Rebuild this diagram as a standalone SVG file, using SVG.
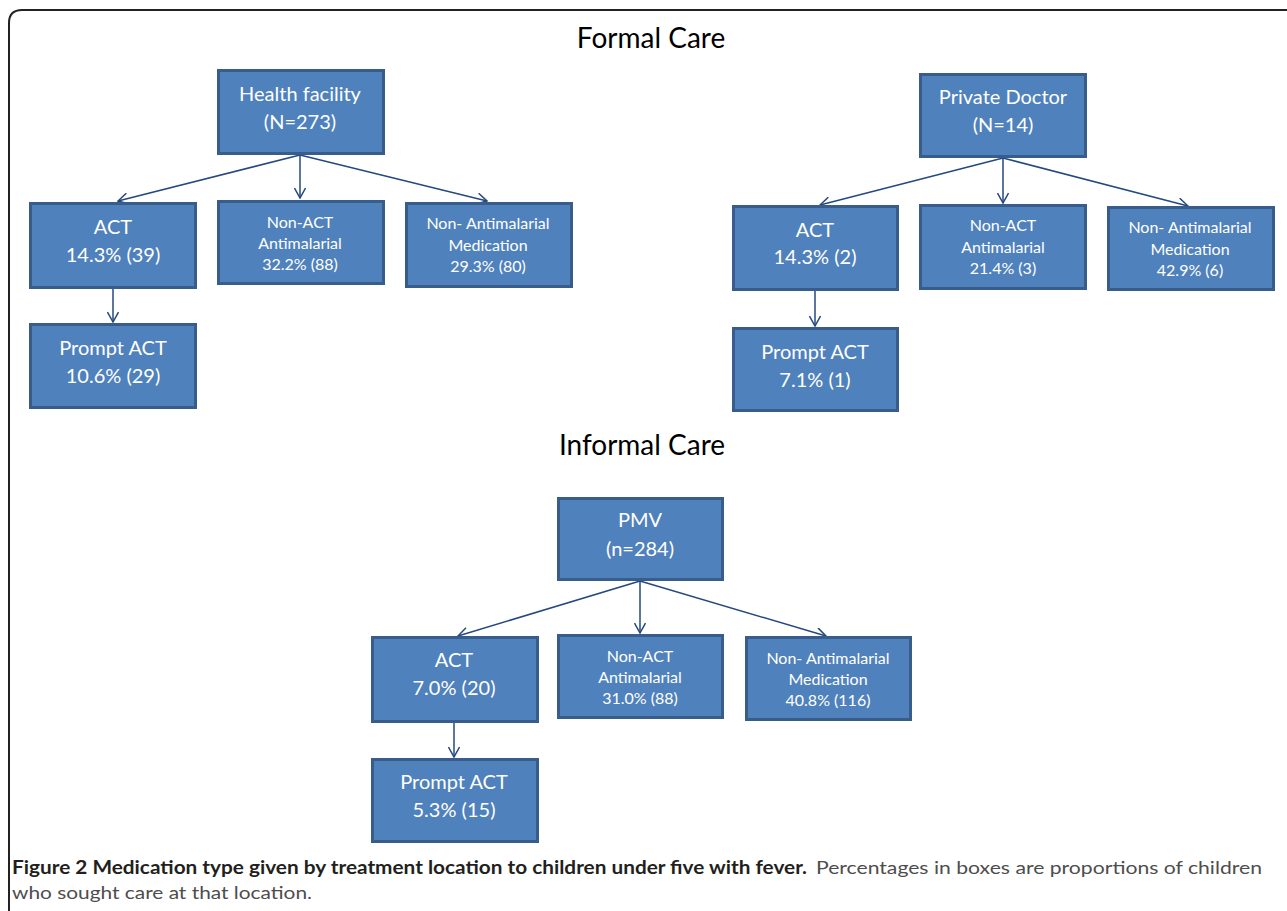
<svg xmlns="http://www.w3.org/2000/svg" width="1287" height="911" viewBox="0 0 1287 911">
<defs>
<style>
.box{fill:#4f81bd;stroke:#385d8a;stroke-width:3}
.t{font-family:Lato,"Open Sans",sans-serif;fill:#fff;text-anchor:middle}
.big{font-size:20px}
.sm{font-size:16px}
.title{font-family:Lato,"Open Sans",sans-serif;font-size:28px;fill:#000;text-anchor:middle}
.edge{stroke:#24497f;stroke-width:1.5;fill:none;marker-end:url(#arr)}
.cap{font-family:Lato,"Open Sans",sans-serif;font-size:18px}
</style>
<marker id="arr" viewBox="0 0 12 12" refX="11" refY="6" markerWidth="12" markerHeight="12" markerUnits="userSpaceOnUse" orient="auto">
<polyline points="1,0.5 11,6 1,11.5" fill="none" stroke="#24497f" stroke-width="1.5"/>
</marker>
</defs>
<rect width="1287" height="911" fill="#fff"/>
<path d="M9 911 V23 Q9 10 22 10 H1287" fill="none" stroke="#222" stroke-width="2"/>
<text class="title" x="651" y="48">Formal Care</text>
<text class="title" x="642" y="455">Informal Care</text>

<g id="connectors">
<line class="edge" x1="300" y1="155" x2="118" y2="201"/>
<line class="edge" x1="300" y1="155" x2="300" y2="198"/>
<line class="edge" x1="300" y1="155" x2="487" y2="201"/>
<line class="edge" x1="113" y1="289" x2="113" y2="322"/>
<line class="edge" x1="1003" y1="158" x2="820" y2="205"/>
<line class="edge" x1="1003" y1="158" x2="1003" y2="203"/>
<line class="edge" x1="1003" y1="158" x2="1188" y2="206"/>
<line class="edge" x1="815" y1="291" x2="815" y2="326"/>
<line class="edge" x1="640" y1="581" x2="458" y2="636"/>
<line class="edge" x1="640" y1="581" x2="640" y2="633"/>
<line class="edge" x1="640" y1="581" x2="826" y2="636"/>
<line class="edge" x1="454" y1="723" x2="454" y2="757"/>
</g>

<g id="hf"><rect class="box" x="218.5" y="70.5" width="165" height="83"/>
<text class="t big" x="300" y="101">Health facility</text><text class="t big" x="300" y="129">(N=273)</text></g>
<g id="hf-act"><rect class="box" x="30.5" y="203.5" width="165" height="84"/>
<text class="t big" x="113" y="234">ACT</text><text class="t big" x="113" y="262">14.3% (39)</text></g>
<g id="hf-nonact"><rect class="box" x="218.5" y="201.5" width="165" height="82"/>
<text class="t sm" x="300" y="228">Non-ACT</text><text class="t sm" x="300" y="249">Antimalarial</text><text class="t sm" x="300" y="270">32.2% (88)</text></g>
<g id="hf-nonanti"><rect class="box" x="406.5" y="203.5" width="165" height="83"/>
<text class="t sm" x="488" y="229">Non- Antimalarial</text><text class="t sm" x="488" y="251">Medication</text><text class="t sm" x="488" y="272">29.3% (80)</text></g>
<g id="hf-prompt"><rect class="box" x="30.5" y="324.5" width="165" height="83"/>
<text class="t big" x="113" y="355">Prompt ACT</text><text class="t big" x="113" y="383">10.6% (29)</text></g>

<g id="pd"><rect class="box" x="920.5" y="74.5" width="165" height="82"/>
<text class="t big" x="1003" y="104">Private Doctor</text><text class="t big" x="1003" y="132">(N=14)</text></g>
<g id="pd-act"><rect class="box" x="733.5" y="206.5" width="164" height="83"/>
<text class="t big" x="815" y="237">ACT</text><text class="t big" x="815" y="264">14.3% (2)</text></g>
<g id="pd-nonact"><rect class="box" x="920.5" y="205.5" width="165" height="83"/>
<text class="t sm" x="1003" y="231">Non-ACT</text><text class="t sm" x="1003" y="253">Antimalarial</text><text class="t sm" x="1003" y="274">21.4% (3)</text></g>
<g id="pd-nonanti"><rect class="box" x="1108.5" y="207.5" width="165" height="82"/>
<text class="t sm" x="1190" y="233">Non- Antimalarial</text><text class="t sm" x="1190" y="255">Medication</text><text class="t sm" x="1190" y="276">42.9% (6)</text></g>
<g id="pd-prompt"><rect class="box" x="733.5" y="328.5" width="164" height="82"/>
<text class="t big" x="815" y="359">Prompt ACT</text><text class="t big" x="815" y="387">7.1% (1)</text></g>

<g id="pmv"><rect class="box" x="558.5" y="498.5" width="164" height="81"/>
<text class="t big" x="640" y="527">PMV</text><text class="t big" x="640" y="556">(n=284)</text></g>
<g id="pmv-act"><rect class="box" x="372.5" y="637.5" width="165" height="84"/>
<text class="t big" x="454" y="667">ACT</text><text class="t big" x="454" y="695">7.0% (20)</text></g>
<g id="pmv-nonact"><rect class="box" x="558.5" y="635.5" width="164" height="82"/>
<text class="t sm" x="640" y="662">Non-ACT</text><text class="t sm" x="640" y="683">Antimalarial</text><text class="t sm" x="640" y="704">31.0% (88)</text></g>
<g id="pmv-nonanti"><rect class="box" x="746.5" y="637.5" width="164" height="82"/>
<text class="t sm" x="828" y="664">Non- Antimalarial</text><text class="t sm" x="828" y="685">Medication</text><text class="t sm" x="828" y="706">40.8% (116)</text></g>
<g id="pmv-prompt"><rect class="box" x="372.5" y="759.5" width="165" height="82"/>
<text class="t big" x="454" y="789">Prompt ACT</text><text class="t big" x="454" y="817">5.3% (15)</text></g>

<text class="cap" x="12" y="874" font-weight="bold" fill="#231f20" textLength="795" lengthAdjust="spacingAndGlyphs">Figure 2 Medication type given by treatment location to children under five with fever.</text>
<text class="cap" x="816" y="874" fill="#4d4d4d" textLength="446" lengthAdjust="spacingAndGlyphs">Percentages in boxes are proportions of children</text>
<text class="cap" x="12" y="899" fill="#4d4d4d" textLength="300" lengthAdjust="spacingAndGlyphs">who sought care at that location.</text>
</svg>
